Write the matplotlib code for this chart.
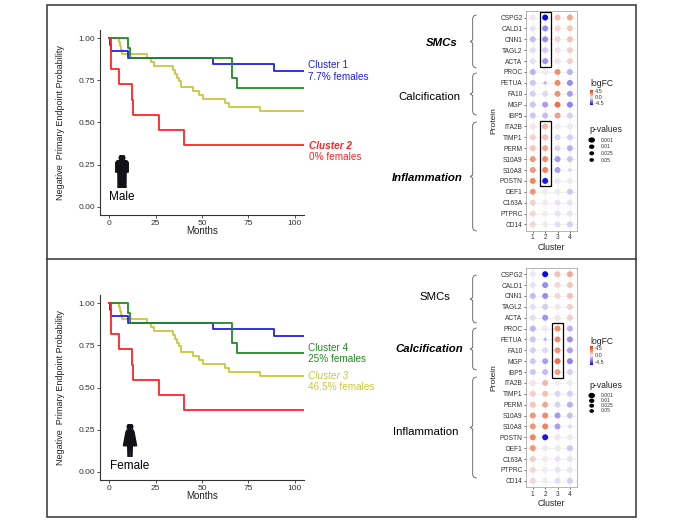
import matplotlib
matplotlib.use("Agg")
import matplotlib.pyplot as plt
import numpy as np
from matplotlib.colors import LinearSegmentedColormap
from matplotlib.patches import Rectangle, Circle, Polygon
from matplotlib.lines import Line2D

W, H = 680, 521
plt.rcParams['font.family'] = ['Liberation Sans', 'DejaVu Sans']

# Kaplan-Meier curves (months, survival), same curves in both panels
c1_t = [0, 0.3, 1, 10, 56, 89]
c1_s = [1.0, 0.962, 0.923, 0.885, 0.846, 0.808]
c2_t = [0, 1, 5.5, 12, 13, 27, 40.5]
c2_s = [1.0, 0.818, 0.727, 0.636, 0.545, 0.455, 0.364]
c3_t = [0, 5, 6, 6.5, 7, 20.5, 22.5, 24, 34.5, 35.5, 36.5, 37.5, 38.5, 45, 48.5, 50.5, 62.5, 64.5, 81.5]
c3_s = [1.0, 0.977, 0.953, 0.930, 0.907, 0.884, 0.860, 0.837, 0.814, 0.791, 0.767, 0.744, 0.712,
        0.690, 0.665, 0.641, 0.618, 0.595, 0.571]
c4_t = [0, 10, 11, 66, 69]
c4_s = [1.0, 0.941, 0.882, 0.765, 0.706]
t_end = 105

blue, red, yellow, green = "#2020E8", "#FF2424", "#C8C83A", "#228B22"

# dot plot data
proteins = ["CSPG2", "CALD1", "CNN1", "TAGL2", "ACTA", "PROC", "FETUA", "FA10", "MGP", "IBP5",
            "ITA2B", "TIMP1", "PERM", "S10A9", "S10A8", "POSTN", "DEF1", "C163A", "PTPRC", "CD14"]
clusters = ["1", "2", "3", "4"]
fc_c1 = [-0.1, -0.2, -1.0, -0.3, -0.3, -1.2, -0.8, -0.6, -0.8, -0.8, 0.2, 0.7, 0.9, 2.0, 2.0, 2.4, 2.0, 0.7, 0.5, 0.5]
fc_c2 = [-4.5, -2.0, -2.0, -0.7, -1.8, -0.1, -1.0, -0.4, -1.6, -1.0, 1.2, 1.0, 1.6, 2.3, 2.5, -4.2, 0.1, 0.1, 0.0, 0.1]
fc_c3 = [1.0, 0.5, 0.5, 0.2, 0.2, 2.2, 2.3, 2.1, 3.0, 1.8, 0.0, -0.5, -0.5, -1.7, -1.6, -0.1, -0.1, -0.2, -0.2, -0.3]
fc_c4 = [1.6, 0.9, 1.0, 0.7, 0.7, -1.2, -2.0, -1.6, -2.2, -0.6, -0.1, -0.6, -1.3, -0.9, -0.5, -0.1, -0.8, -0.2, -0.2, -0.6]
p_c1 = [0.001] * 20
p_c2 = [0.001] * 6 + [0.05] + [0.001] * 13
p_c3 = [0.001] * 20
p_c4 = [0.001] * 14 + [0.05] + [0.001] * 5
logfc = [fc_c1, fc_c2, fc_c3, fc_c4]
pvals = [p_c1, p_c2, p_c3, p_c4]
p_legend = [0.001, 0.01, 0.025, 0.05]

fc_cmap = LinearSegmentedColormap.from_list(
    "fc", [(0, "#0808F0"), (0.25, "#8E7EF0"), (0.5, "#F3EEF2"), (0.75, "#F08C6C"), (1, "#E63A18")])


def box(l, t, r, b):
    return [l / W, 1 - b / H, (r - l) / W, (b - t) / H]


def dot_diam(p):
    return 1.8 + 1.4 * (-np.log10(p))


def ftext(x, y, s, **kw):
    fig.text(x / W, 1 - y / H, s, **kw)


def person(cx, top, h, female=False):
    w = h * 0.5
    ax = fig.add_axes(box(cx - w / 2, top, cx + w / 2, top + h))
    ax.set_xlim(-2.5, 2.5)
    ax.set_ylim(0, 10)
    ax.axis('off')
    ink = "#111118"
    ax.add_patch(Circle((0, 9.15), 0.85, color=ink))
    if female:
        ax.add_patch(Polygon([(-0.9, 8.2), (0.9, 8.2), (1.2, 7.6), (2.0, 3.4), (-2.0, 3.4), (-1.2, 7.6)], color=ink))
        ax.add_patch(Polygon([(-0.7, 3.5), (-0.2, 3.5), (-0.25, 0), (-0.6, 0)], color=ink))
        ax.add_patch(Polygon([(0.2, 3.5), (0.7, 3.5), (0.6, 0), (0.25, 0)], color=ink))
    else:
        ax.add_patch(Polygon([(-1.9, 4.8), (-1.9, 7.7), (-1.4, 8.3), (1.4, 8.3), (1.9, 7.7), (1.9, 4.8),
                              (1.45, 4.8), (1.45, 7.1), (1.25, 7.1), (1.2, 0), (0.15, 0), (0.1, 4.4),
                              (-0.1, 4.4), (-0.15, 0), (-1.2, 0), (-1.25, 7.1), (-1.45, 7.1), (-1.45, 4.8)],
                             color=ink))


def km_panel(t, b):
    ax = fig.add_axes(box(100, t, 304, b))
    curves = [(c3_t, c3_s, yellow), (c1_t, c1_s, blue), (c4_t, c4_s, green), (c2_t, c2_s, red)]
    for tt, ss, col in curves:
        ax.step(list(tt) + [t_end], list(ss) + [ss[-1]], where='post', color=col, lw=1.3)
    ax.set_xlim(-5, 105)
    ax.set_ylim(-0.05, 1.05)
    ax.set_xticks([0, 25, 50, 75, 100])
    ax.set_yticks([0, 0.25, 0.5, 0.75, 1.0])
    ax.set_yticklabels(["0.00", "0.25", "0.50", "0.75", "1.00"])
    for s in ['top', 'right']:
        ax.spines[s].set_visible(False)
    for s in ['left', 'bottom']:
        ax.spines[s].set_color('#333333')
        ax.spines[s].set_linewidth(0.8)
    ax.tick_params(labelsize=6, colors='#333333', length=2, width=0.6, pad=1.5)
    ax.set_xlabel("Months", fontsize=7, labelpad=-0.5, color='#222222')
    ax.set_ylabel("Negative  Primary Endpoint Probability", fontsize=6.5, color='#222222')
    ax.yaxis.set_label_coords(-0.17, 0.5)
    return ax


def bracket(x0, yt, yb):
    ym = (yt + yb) / 2
    pts = [(x0 + 3.5, yt), (x0 + 1, yt + 1), (x0, yt + 3), (x0, ym - 1.5), (x0 - 2.5, ym),
           (x0, ym + 1.5), (x0, yb - 3), (x0 + 1, yb - 1), (x0 + 3.5, yb)]
    xs = [p[0] / W for p in pts]
    ys = [1 - p[1] / H for p in pts]
    fig.add_artist(Line2D(xs, ys, color='#555555', lw=0.6))


def dot_panel(t, b, boxes):
    ax = fig.add_axes(box(526, t, 576.7, b))
    xs, ys, cs, ss = [], [], [], []
    for j in range(len(clusters)):
        for i in range(len(proteins)):
            xs.append(j + 1)
            ys.append(i)
            cs.append(logfc[j][i])
            ss.append((dot_diam(pvals[j][i]) * 0.72) ** 2)
    ax.scatter(xs, ys, c=cs, s=ss, cmap=fc_cmap, vmin=-4.5, vmax=4.5, linewidths=0, zorder=3)
    ax.set_xlim(0.45, 4.55)
    ax.set_ylim(len(proteins) - 0.4, -0.6)
    ax.set_xticks(range(1, 5))
    ax.set_xticklabels(clusters)
    ax.set_yticks(range(len(proteins)))
    ax.set_yticklabels(proteins)
    ax.grid(color='#EBEBEB', lw=0.5)
    ax.set_axisbelow(True)
    for s in ax.spines.values():
        s.set_color('#AAAAAA')
        s.set_linewidth(0.6)
    ax.tick_params(labelsize=4.8, colors='#333333', length=1.5, width=0.5, pad=1)
    ax.set_xlabel("Cluster", fontsize=6.2, labelpad=1, color='#222222')
    ax.set_ylabel("Protein", fontsize=6, labelpad=2, color='#222222')
    for col, r0, r1 in boxes:
        ax.add_patch(Rectangle((col - 0.45, r0 - 0.5), 0.9, r1 - r0 + 1, fill=False,
                               ec='black', lw=0.9, zorder=4))
    return ax


def legend(title_y, bar_t, bar_b, ptitle_y, dot_ys):
    ftext(590, title_y, "logFC", fontsize=6.2, va='center', color='#222222')
    cax = fig.add_axes(box(590, bar_t, 592.5, bar_b))
    grad = np.linspace(4.5, -4.5, 50).reshape(-1, 1)
    cax.imshow(grad, cmap=fc_cmap, vmin=-4.5, vmax=4.5, aspect='auto')
    cax.axis('off')
    for frac, lab in zip([0.12, 0.5, 0.88], ["4.5", "0.0", "-4.5"]):
        ftext(595, bar_t + frac * (bar_b - bar_t), lab, fontsize=4, va='center', color='#333333')
    ftext(589, ptitle_y, "p-values", fontsize=6.2, va='center', color='#222222')
    for y, p in zip(dot_ys, p_legend):
        r = dot_diam(p) / 2 * 0.85
        fig.add_artist(Circle((591.7 / W, 1 - y / H), r / W, color='black',
                              transform=fig.transFigure))
        ftext(601, y, str(p), fontsize=3.6, va='center', color='#333333')


fig = plt.figure(figsize=(W / 100, H / 100), dpi=100)

# outer frame and divider
fig.add_artist(Rectangle((47 / W, 1 - 517 / H), (636 - 47) / W, (517 - 5) / H, fill=False,
                         ec='#333333', lw=1.1, transform=fig.transFigure))
fig.add_artist(Line2D([47 / W, 636 / W], [1 - 259 / H, 1 - 259 / H], color='#333333', lw=1.1))

# top panel (male)
km_panel(30, 215)
ftext(308, 65, "Cluster 1", fontsize=7.2, color=blue, va='center')
ftext(308, 77, "7.7% females", fontsize=7.2, color=blue, va='center')
ftext(309, 146, "Cluster 2", fontsize=7.2, color=red, va='center', style='italic', weight='bold')
ftext(309, 157, "0% females", fontsize=7.2, color=red, va='center')
person(122, 155, 33)
ftext(122, 197, "Male", fontsize=8.5, ha='center', va='center', color='black')

dot_panel(11, 231, [(2, 0, 4), (2, 10, 15)])
bracket(472.7, 15, 68)
bracket(472.7, 73, 115)
bracket(472.7, 122, 231)
ftext(458, 43, "SMCs", fontsize=8.2, ha='right', va='center', style='italic', weight='bold')
ftext(460, 97, "Calcification", fontsize=8.2, ha='right', va='center')
ftext(463, 178, "Inflammation", fontsize=8.2, ha='right', va='center', style='italic', weight='bold')
legend(84, 90, 105, 130, [140, 146.7, 153.3, 160])

# bottom panel (female)
km_panel(295, 480)
ftext(308, 348, "Cluster 4", fontsize=7.2, color=green, va='center')
ftext(308, 359, "25% females", fontsize=7.2, color=green, va='center')
ftext(308, 376, "Cluster 3", fontsize=7.2, color=yellow, va='center', style='italic')
ftext(308, 387, "46.5% females", fontsize=7.2, color=yellow, va='center')
person(130, 424, 33, female=True)
ftext(130, 466, "Female", fontsize=8.5, ha='center', va='center', color='black')

dot_panel(267.7, 487.3, [(3, 5, 9)])
bracket(472.7, 275, 323)
bracket(472.7, 328, 370)
bracket(472.7, 377, 478)
ftext(450, 297, "SMCs", fontsize=8.2, ha='right', va='center')
ftext(463, 349, "Calcification", fontsize=8.2, ha='right', va='center', style='italic', weight='bold')
ftext(458, 432, "Inflammation", fontsize=8.2, ha='right', va='center')
legend(341, 346, 365, 385, [395.5, 400.7, 405.7, 411])

fig.savefig("out.png", dpi=100)
